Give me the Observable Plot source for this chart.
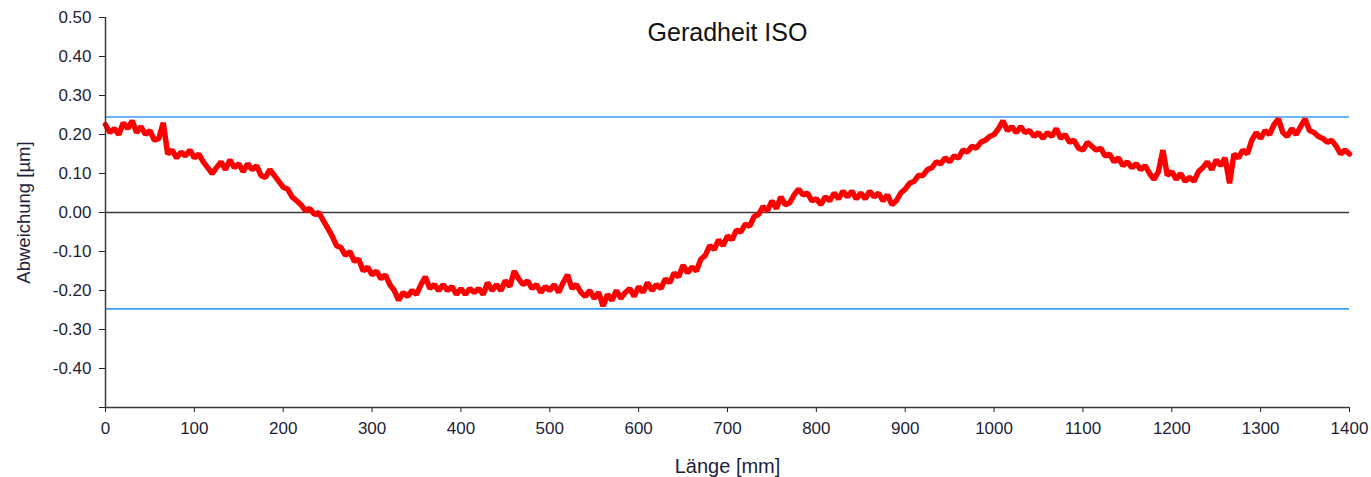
<!DOCTYPE html>
<html><head><meta charset="utf-8">
<script src="https://cdn.jsdelivr.net/npm/d3@7"></script>
<script src="https://cdn.jsdelivr.net/npm/@observablehq/plot@0.6"></script>
<style>body{margin:0;background:#fff;}</style>
</head><body><div id="chart"></div>
<script>
const title = "Geradheit ISO";
const xLabel = "Länge [mm]";
const yLabel = "Abweichung [µm]";
const xTicks = [0,100,200,300,400,500,600,700,800,900,1000,1100,1200,1300,1400];
const yTicks = [-0.5,-0.4,-0.3,-0.2,-0.1,0,0.1,0.2,0.3,0.4,0.5];
const toleranceLimits = [0.245, -0.247];
const sampleStepMm = 5;
const deviation = [
  0.225,0.205,0.215,0.200,0.230,0.215,0.235,0.205,0.220,0.200,
  0.210,0.185,0.190,0.230,0.150,0.160,0.140,0.155,0.145,0.160,
  0.140,0.150,0.130,0.115,0.100,0.115,0.130,0.110,0.135,0.115,
  0.125,0.105,0.125,0.110,0.120,0.095,0.090,0.110,0.095,0.080,
  0.065,0.060,0.040,0.030,0.020,0.005,0.010,-0.005,0.000,-0.020,
  -0.040,-0.060,-0.085,-0.090,-0.110,-0.100,-0.125,-0.120,-0.150,-0.140,
  -0.160,-0.150,-0.170,-0.160,-0.185,-0.200,-0.225,-0.205,-0.215,-0.200,
  -0.210,-0.185,-0.165,-0.195,-0.185,-0.200,-0.185,-0.200,-0.190,-0.210,
  -0.195,-0.210,-0.195,-0.205,-0.195,-0.210,-0.180,-0.200,-0.185,-0.200,
  -0.175,-0.190,-0.150,-0.170,-0.185,-0.175,-0.195,-0.185,-0.205,-0.190,
  -0.200,-0.185,-0.205,-0.180,-0.160,-0.195,-0.185,-0.205,-0.215,-0.200,
  -0.220,-0.205,-0.240,-0.210,-0.225,-0.200,-0.220,-0.205,-0.195,-0.215,
  -0.190,-0.205,-0.180,-0.200,-0.185,-0.195,-0.170,-0.180,-0.155,-0.165,
  -0.135,-0.155,-0.140,-0.150,-0.120,-0.110,-0.085,-0.095,-0.070,-0.085,
  -0.060,-0.070,-0.045,-0.050,-0.030,-0.035,-0.010,-0.005,0.015,0.005,
  0.030,0.010,0.040,0.020,0.025,0.045,0.060,0.045,0.050,0.030,
  0.035,0.020,0.040,0.030,0.050,0.035,0.055,0.040,0.055,0.035,
  0.050,0.035,0.055,0.040,0.050,0.030,0.045,0.020,0.030,0.050,
  0.060,0.075,0.080,0.095,0.095,0.110,0.115,0.130,0.125,0.140,
  0.130,0.145,0.140,0.160,0.155,0.170,0.165,0.180,0.185,0.195,
  0.200,0.215,0.235,0.210,0.220,0.205,0.220,0.205,0.210,0.195,
  0.205,0.190,0.205,0.195,0.215,0.190,0.200,0.180,0.185,0.165,
  0.160,0.180,0.170,0.160,0.165,0.145,0.150,0.130,0.140,0.120,
  0.130,0.115,0.125,0.110,0.120,0.100,0.085,0.105,0.160,0.095,
  0.105,0.085,0.100,0.080,0.090,0.080,0.105,0.115,0.130,0.110,
  0.135,0.120,0.140,0.075,0.150,0.140,0.160,0.150,0.185,0.205,
  0.190,0.210,0.200,0.225,0.240,0.205,0.195,0.215,0.200,0.220,
  0.240,0.210,0.205,0.195,0.190,0.180,0.185,0.170,0.150,0.160,
  0.150
];
const lengthMm = deviation.map((_, i) => i * sampleStepMm);
const data = lengthMm.map((x, i) => ({x, y: deviation[i]}));

const axisColor = "#3a3a3a";
const textColor = "#1e1e3a";
const plot = Plot.plot({
  width: 1371, height: 477,
  marginLeft: 105, marginRight: 22, marginTop: 17, marginBottom: 70,
  style: {fontFamily: "'Liberation Sans', Arial, sans-serif", fontSize: "17px", color: textColor, background: "#fff"},
  x: {domain: [0, 1400], ticks: xTicks, tickFormat: d => String(d), label: null, tickSize: 5, tickPadding: 9},
  y: {domain: [-0.5, 0.5], ticks: yTicks, tickFormat: d => Math.abs(d + 0.5) < 1e-9 ? "" : d.toFixed(2), label: null, tickSize: 6, tickPadding: 8},
  marks: [
    Plot.ruleY(toleranceLimits, {stroke: "#3d9df5", strokeWidth: 1.6}),
    Plot.ruleY([0], {stroke: axisColor, strokeWidth: 1.5}),
    Plot.line(data, {x: "x", y: "y", stroke: "#ff0000", strokeWidth: 5.5, strokeLinejoin: "miter"}),
    Plot.ruleX([0], {stroke: axisColor, strokeWidth: 1.5}),
    Plot.ruleY([-0.5], {stroke: axisColor, strokeWidth: 1.5}),
    Plot.text([title], {frameAnchor: "top", lineAnchor: "middle", dy: 15, fontSize: 25, fill: "#111"}),
    Plot.text([xLabel], {frameAnchor: "bottom", lineAnchor: "middle", dy: 59, fontSize: 20, fill: textColor}),
    Plot.text([yLabel], {frameAnchor: "left", textAnchor: "middle", lineAnchor: "middle", dx: -81, rotate: -90, fontSize: 18.5, fill: textColor})
  ]
});
document.getElementById("chart").appendChild(plot);
</script>
</body></html>
